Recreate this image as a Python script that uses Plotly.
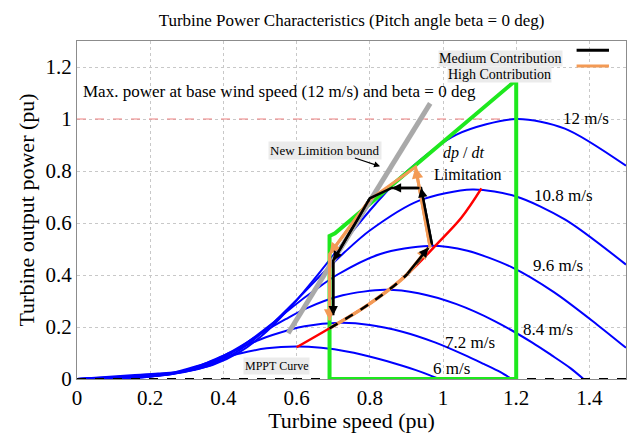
import plotly.graph_objects as go

# ---------------- data ----------------
wind_labels = ["6 m/s", "7.2 m/s", "8.4 m/s", "9.6 m/s", "10.8 m/s", "12 m/s"]

speed_6 = [0, 0.074, 0.111, 0.148, 0.185, 0.222, 0.259, 0.296, 0.334, 0.370, 0.407, 0.445, 0.518, 0.600, 0.667, 0.741, 0.815, 0.889, 0.926, 0.963, 0.989]
power_6 = [0, 0.002, 0.003, 0.004, 0.007, 0.013, 0.023, 0.037, 0.052, 0.069, 0.084, 0.098, 0.118, 0.125, 0.120, 0.105, 0.081, 0.051, 0.034, 0.015, 0]

speed_72 = [0, 0.089, 0.133, 0.178, 0.222, 0.266, 0.311, 0.356, 0.400, 0.444, 0.489, 0.534, 0.622, 0.720, 0.800, 0.889, 0.978, 1.066, 1.111, 1.156, 1.187]
power_72 = [0, 0.003, 0.005, 0.007, 0.012, 0.022, 0.040, 0.063, 0.090, 0.118, 0.145, 0.169, 0.203, 0.216, 0.208, 0.182, 0.141, 0.088, 0.058, 0.027, 0]

speed_84 = [0, 0.103, 0.155, 0.207, 0.260, 0.311, 0.363, 0.415, 0.467, 0.518, 0.570, 0.622, 0.726, 0.840, 0.933, 1.037, 1.141, 1.244, 1.296, 1.348, 1.384]
power_84 = [0, 0.005, 0.007, 0.011, 0.019, 0.035, 0.063, 0.100, 0.143, 0.188, 0.230, 0.269, 0.322, 0.343, 0.330, 0.288, 0.223, 0.140, 0.092, 0.042, 0]

speed_96 = [0, 0.118, 0.178, 0.237, 0.297, 0.355, 0.415, 0.474, 0.534, 0.592, 0.652, 0.711, 0.829, 0.960, 1.067, 1.186, 1.304, 1.422, 1.5]
power_96 = [0, 0.007, 0.011, 0.016, 0.028, 0.053, 0.094, 0.150, 0.214, 0.281, 0.344, 0.401, 0.481, 0.512, 0.493, 0.431, 0.333, 0.208, 0.12]

speed_108 = [0, 0.133, 0.200, 0.267, 0.334, 0.400, 0.467, 0.534, 0.600, 0.666, 0.733, 0.800, 0.933, 1.080, 1.200, 1.334, 1.5]
power_108 = [0, 0.010, 0.015, 0.023, 0.039, 0.075, 0.134, 0.213, 0.304, 0.399, 0.490, 0.571, 0.685, 0.729, 0.702, 0.613, 0.44]

speed_12 = [0, 0.148, 0.222, 0.296, 0.370, 0.444, 0.519, 0.593, 0.667, 0.741, 0.815, 0.889, 1.037, 1.200, 1.333, 1.5]
power_12 = [0, 0.014, 0.021, 0.031, 0.054, 0.103, 0.184, 0.292, 0.417, 0.548, 0.672, 0.783, 0.940, 1.0, 0.963, 0.82]

# wind label positions (speed, power)
label_x = [1.022, 1.074, 1.287, 1.314, 1.328, 1.391]
label_y = [0.042, 0.141, 0.191, 0.436, 0.707, 1.002]

# MPPT curve
mppt_x = [0.6, 0.69, 0.8, 0.9, 0.984, 1.05, 1.105]
mppt_y = [0.122, 0.195, 0.29, 0.40, 0.52, 0.62, 0.733]

# Operating region (green)
region_x = [0.69, 0.69, 0.705, 1.2, 1.2, 0.69]
region_y = [0.0, 0.55, 0.56, 1.15, 0.0, 0.0]

# New limitation bound (gray)
bound_x = [0.577, 0.965]
bound_y = [0.176, 1.06]

# High contribution path (orange)
high_x = [0.69, 0.965, 0.925, 0.80, 0.69, 0.69]
high_y = [0.19, 0.505, 0.815, 0.69, 0.48, 0.225]

# Medium contribution path (black)
med_x = [0.97, 0.94, 0.86, 0.80, 0.70, 0.70]
med_y = [0.515, 0.735, 0.735, 0.695, 0.455, 0.245]

# MPPT tracking segment (dashed black along MPPT)
track_x = [0.69, 0.8, 0.9, 0.96]
track_y = [0.195, 0.29, 0.40, 0.505]

SERIF = "Liberation Serif"
BLUE = "#0000FF"
ORANGE = "#F39A55"
GREEN = "#1EE81E"

fig = go.Figure()

# red dashed max-power line (y = 1)
fig.add_trace(go.Scatter(x=[0, 1.2], y=[1.0, 1.0], mode="lines",
                         line=dict(color="#F08080", width=1, dash="dash"),
                         showlegend=False, hoverinfo="skip"))

curves = [(speed_6, power_6), (speed_72, power_72), (speed_84, power_84),
          (speed_96, power_96), (speed_108, power_108), (speed_12, power_12)]
for (sx, py), name in zip(curves, wind_labels):
    fig.add_trace(go.Scatter(x=sx, y=py, mode="lines", name=name,
                             line=dict(color=BLUE, width=2, shape="spline", smoothing=0.8),
                             showlegend=False))

# zero line (black dashed)
fig.add_trace(go.Scatter(x=[0, 1.5], y=[0, 0], mode="lines",
                         line=dict(color="black", width=2, dash="dash"),
                         showlegend=False, hoverinfo="skip"))

# green region
fig.add_trace(go.Scatter(x=region_x, y=region_y, mode="lines",
                         line=dict(color=GREEN, width=4),
                         showlegend=False, hoverinfo="skip"))

# gray bound
fig.add_trace(go.Scatter(x=bound_x, y=bound_y, mode="lines",
                         line=dict(color="#A9A9A9", width=5),
                         showlegend=False, hoverinfo="skip"))

# MPPT red curve
fig.add_trace(go.Scatter(x=mppt_x, y=mppt_y, mode="lines", name="MPPT Curve",
                         line=dict(color="red", width=2.5, shape="spline"),
                         showlegend=False))

# orange path: along MPPT then polyline
fig.add_trace(go.Scatter(x=track_x, y=track_y, mode="lines",
                         line=dict(color=ORANGE, width=3.5, shape="spline"),
                         showlegend=False, hoverinfo="skip"))
fig.add_trace(go.Scatter(x=high_x[1:], y=high_y[1:], mode="lines", name="High Contribution",
                         line=dict(color=ORANGE, width=3),
                         showlegend=False))
# black path
fig.add_trace(go.Scatter(x=track_x, y=track_y, mode="lines",
                         line=dict(color="black", width=2.5, dash="dash", shape="spline"),
                         showlegend=False, hoverinfo="skip"))
fig.add_trace(go.Scatter(x=med_x, y=med_y, mode="lines", name="Medium Contribution",
                         line=dict(color="black", width=2.5),
                         showlegend=False))

annotations = []

def arrow(x0, y0, x1, y1, color, width):
    annotations.append(dict(x=x1, y=y1, ax=x0, ay=y0, xref="x", yref="y",
                            axref="x", ayref="y", text="", showarrow=True,
                            arrowhead=2, arrowsize=0.75, arrowwidth=width,
                            arrowcolor=color, standoff=0))

# orange arrowheads
arrow(track_x[-2], track_y[-2], track_x[-1], track_y[-1], ORANGE, 3)
for i in range(1, len(high_x) - 1):
    if i in (1, 3, 4):
        arrow(high_x[i], high_y[i], high_x[i + 1], high_y[i + 1], ORANGE, 3)
# black arrowheads
arrow(track_x[-2], track_y[-2], track_x[-1], track_y[-1], "black", 2.5)
for i in range(len(med_x) - 1):
    if i in (0, 1, 3, 4):
        arrow(med_x[i], med_y[i], med_x[i + 1], med_y[i + 1], "black", 2.5)

# wind speed labels
for lx, ly, t in zip(label_x, label_y, wind_labels):
    annotations.append(dict(x=lx, y=ly, xref="x", yref="y", text=t, showarrow=False,
                            font=dict(family=SERIF, size=17, color="black")))

annotations += [
    dict(x=0.012, y=1.105, xref="x", yref="y", xanchor="left", showarrow=False,
         text="Max. power at base wind speed (12 m/s) and beta = 0 deg",
         font=dict(family=SERIF, size=17, color="black")),
    dict(x=0.546, y=0.05, xref="x", yref="y", text="MPPT Curve", showarrow=False,
         bgcolor="#EBEBEB", font=dict(family=SERIF, size=12, color="black")),
    dict(x=0.678, y=0.88, xref="x", yref="y", text="New Limition bound", showarrow=False,
         bgcolor="#EBEBEB", font=dict(family=SERIF, size=13, color="black")),
    dict(x=0.828, y=0.818, ax=0.755, ay=0.852, xref="x", yref="y", axref="x", ayref="y",
         text="", showarrow=True, arrowhead=2, arrowsize=1, arrowwidth=1.2,
         arrowcolor="black", standoff=0),
    dict(x=1.055, y=0.868, xref="x", yref="y", text="<i>dp</i> / <i>dt</i>", showarrow=False,
         font=dict(family=SERIF, size=16, color="black")),
    dict(x=1.068, y=0.786, xref="x", yref="y", text="Limitation", showarrow=False,
         font=dict(family=SERIF, size=16, color="black")),
    # custom legend
    dict(x=0.885, y=0.973, xref="paper", yref="paper", xanchor="right", text="Medium Contribution",
         showarrow=False, bgcolor="#EBEBEB", borderpad=0, font=dict(family=SERIF, size=14, color="black")),
    dict(x=0.865, y=0.926, xref="paper", yref="paper", xanchor="right", text="High Contribution",
         showarrow=False, bgcolor="#EBEBEB", borderpad=0, font=dict(family=SERIF, size=14, color="black")),
]

shapes = [
    dict(type="line", xref="paper", yref="paper", x0=0.91, x1=0.969, y0=0.973, y1=0.973,
         line=dict(color="black", width=3)),
    dict(type="line", xref="paper", yref="paper", x0=0.91, x1=0.969, y0=0.926, y1=0.926,
         line=dict(color=ORANGE, width=3)),
]

axis_common = dict(showgrid=True, gridcolor="#C8C8C8", griddash="dot", gridwidth=1,
                   zeroline=False, showline=True, mirror=True, linecolor="#8C8C8C",
                   linewidth=1, ticks="", tickfont=dict(family=SERIF, size=21, color="black"))

fig.update_layout(
    width=632, height=433,
    margin=dict(l=77, r=6, t=41, b=54),
    paper_bgcolor="white", plot_bgcolor="white",
    title=dict(text="Turbine Power Characteristics (Pitch angle beta = 0 deg)",
               x=0.5, xref="paper", y=0.953, yanchor="middle",
               font=dict(family=SERIF, size=17, color="black")),
    xaxis=dict(range=[0, 1.5], dtick=0.2, tick0=0,
               title=dict(text="Turbine speed (pu)", standoff=2,
                          font=dict(family=SERIF, size=22, color="black")),
               **axis_common),
    yaxis=dict(range=[0, 1.3], dtick=0.2, tick0=0,
               title=dict(text="Turbine output power (pu)", standoff=4,
                          font=dict(family=SERIF, size=22, color="black")),
               **axis_common),
    annotations=annotations,
    shapes=shapes,
    showlegend=False,
)

fig.write_html("out.html")
